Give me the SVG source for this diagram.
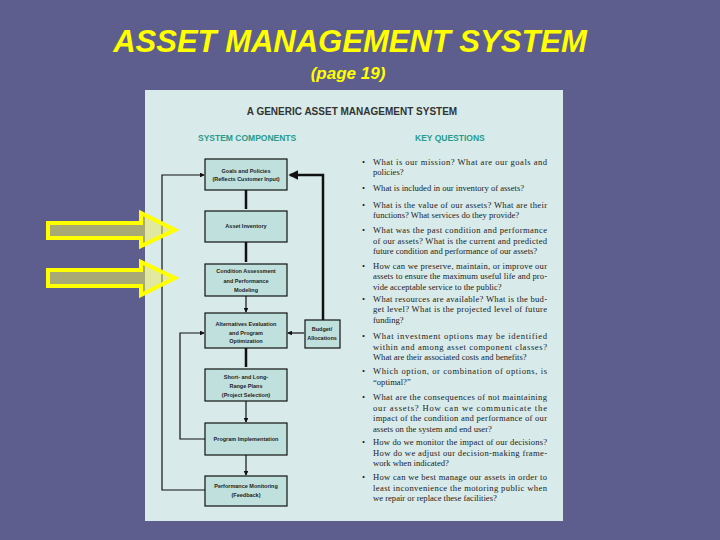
<svg xmlns="http://www.w3.org/2000/svg" width="720" height="540" viewBox="0 0 720 540">
<defs>
<style>
.bx{fill:#bfe0dc;stroke:#111;stroke-width:1.2}
.bl{font-family:"Liberation Sans",Arial,sans-serif;font-size:5.5px;font-weight:bold;fill:#222;text-anchor:middle}
.q{font-family:"Liberation Serif","Times New Roman",serif;font-size:8.6px;fill:#222}
.ln{fill:none;stroke:#111;stroke-width:1.2}
.th{fill:none;stroke:#111;stroke-width:2.5}
.ya{fill:#e8e860;fill-opacity:0.55;stroke:#ffff00;stroke-width:4}
</style>
<marker id="ah" viewBox="0 0 6 6" refX="5" refY="3" markerWidth="4" markerHeight="4" orient="auto"><path d="M0,0L6,3L0,6z" fill="#111"/></marker>
</defs>
<rect width="720" height="540" fill="#5e5e8e"/>
<text x="350" y="52" text-anchor="middle" font-family="Liberation Sans,Arial,sans-serif" font-size="31" font-weight="bold" font-style="italic" fill="#ffff00">ASSET MANAGEMENT SYSTEM</text>
<text x="348" y="79" text-anchor="middle" font-family="Liberation Sans,Arial,sans-serif" font-size="17" font-weight="bold" font-style="italic" fill="#ffff00">(page 19)</text>
<rect x="145" y="90" width="418" height="431" fill="#d8ebea"/>
<text x="352" y="115" text-anchor="middle" font-family="Liberation Sans,Arial,sans-serif" font-size="10" font-weight="bold" fill="#333">A GENERIC ASSET MANAGEMENT SYSTEM</text>
<text x="198" y="141" font-family="Liberation Sans,Arial,sans-serif" font-size="8.5" font-weight="bold" fill="#2a9a8c">SYSTEM COMPONENTS</text>
<text x="415" y="141" font-family="Liberation Sans,Arial,sans-serif" font-size="8.5" font-weight="bold" fill="#2a9a8c">KEY QUESTIONS</text>
<g id="connectors">
<line class="th" x1="246" y1="190" x2="246" y2="209"/>
<line class="th" x1="246" y1="242" x2="246" y2="262"/>
<line class="ln" x1="246" y1="296" x2="246" y2="312" marker-end="url(#ah)"/>
<line class="th" x1="246" y1="348" x2="246" y2="367"/>
<line class="ln" x1="246" y1="401" x2="246" y2="422" marker-end="url(#ah)"/>
<line class="ln" x1="246" y1="455" x2="246" y2="475" marker-end="url(#ah)"/>
<polyline class="ln" points="205,490 162,490 162,175 204,175" marker-end="url(#ah)"/>
<polyline class="ln" points="205,439 180,439 180,333 204,333" marker-end="url(#ah)"/>
<polyline class="th" points="323,320 323,175 290,175" marker-end="url(#ah)"/>
<line class="ln" x1="304" y1="333" x2="288" y2="333" marker-end="url(#ah)"/>
</g>
<g id="n1"><rect class="bx" x="205" y="159" width="82" height="31"/><text class="bl" x="246" y="173">Goals and Policies</text><text class="bl" x="246" y="181">(Reflects Customer Input)</text></g>
<g id="n2"><rect class="bx" x="205" y="211" width="82" height="31"/><text class="bl" x="246" y="228">Asset Inventory</text></g>
<g id="n3"><rect class="bx" x="205" y="264" width="82" height="32"/><text class="bl" x="246" y="273">Condition Assessment</text><text class="bl" x="246" y="283">and Performance</text><text class="bl" x="246" y="292">Modeling</text></g>
<g id="n4"><rect class="bx" x="205" y="313" width="82" height="35"/><text class="bl" x="246" y="326">Alternatives Evaluation</text><text class="bl" x="246" y="335">and Program</text><text class="bl" x="246" y="343">Optimization</text></g>
<g id="n5"><rect class="bx" x="205" y="369" width="82" height="32"/><text class="bl" x="246" y="379">Short- and Long-</text><text class="bl" x="246" y="388">Range Plans</text><text class="bl" x="246" y="397">(Project Selection)</text></g>
<g id="n6"><rect class="bx" x="205" y="423" width="82" height="32"/><text class="bl" x="246" y="441">Program Implementation</text></g>
<g id="n7"><rect class="bx" x="205" y="476" width="82" height="30"/><text class="bl" x="246" y="488">Performance Monitoring</text><text class="bl" x="246" y="497">(Feedback)</text></g>
<g id="n8"><rect class="bx" x="305" y="320" width="35" height="28"/><text class="bl" x="322" y="331" font-size="6">Budget/</text><text class="bl" x="322" y="340" font-size="6">Allocations</text></g>
<g id="questions" class="q">
<text x="362" y="165">•</text><text x="373" y="165" textLength="174" lengthAdjust="spacing">What is our mission? What are our goals and</text><text x="373" y="175">policies?</text>
<text x="362" y="191">•</text><text x="373" y="191">What is included in our inventory of assets?</text>
<text x="362" y="208">•</text><text x="373" y="208" textLength="174" lengthAdjust="spacing">What is the value of our assets? What are their</text><text x="373" y="218">functions? What services do they provide?</text>
<text x="362" y="233">•</text><text x="373" y="233" textLength="174" lengthAdjust="spacing">What was the past condition and performance</text><text x="373" y="244" textLength="174" lengthAdjust="spacing">of our assets? What is the current and predicted</text><text x="373" y="254">future condition and performance of our assets?</text>
<text x="362" y="269">•</text><text x="373" y="269" textLength="174" lengthAdjust="spacing">How can we preserve, maintain, or improve our</text><text x="373" y="279" textLength="174" lengthAdjust="spacing">assets to ensure the maximum useful life and pro-</text><text x="373" y="290">vide acceptable service to the public?</text>
<text x="362" y="302">•</text><text x="373" y="302" textLength="174" lengthAdjust="spacing">What resources are available? What is the bud-</text><text x="373" y="312" textLength="174" lengthAdjust="spacing">get level? What is the projected level of future</text><text x="373" y="323">funding?</text>
<text x="362" y="339">•</text><text x="373" y="339" textLength="174" lengthAdjust="spacing">What investment options may be identified</text><text x="373" y="350" textLength="174" lengthAdjust="spacing">within and among asset component classes?</text><text x="373" y="360">What are their associated costs and benefits?</text>
<text x="362" y="374">•</text><text x="373" y="374" textLength="174" lengthAdjust="spacing">Which option, or combination of options, is</text><text x="373" y="385">“optimal?”</text>
<text x="362" y="400">•</text><text x="373" y="400" textLength="174" lengthAdjust="spacing">What are the consequences of not maintaining</text><text x="373" y="411" textLength="174" lengthAdjust="spacing">our assets? How can we communicate the</text><text x="373" y="421" textLength="174" lengthAdjust="spacing">impact of the condition and performance of our</text><text x="373" y="432">assets on the system and end user?</text>
<text x="362" y="445">•</text><text x="373" y="445" textLength="174" lengthAdjust="spacing">How do we monitor the impact of our decisions?</text><text x="373" y="456" textLength="174" lengthAdjust="spacing">How do we adjust our decision-making frame-</text><text x="373" y="466">work when indicated?</text>
<text x="362" y="480">•</text><text x="373" y="480" textLength="174" lengthAdjust="spacing">How can we best manage our assets in order to</text><text x="373" y="491" textLength="174" lengthAdjust="spacing">least inconvenience the motoring public when</text><text x="373" y="501">we repair or replace these facilities?</text>
</g>
<g id="arrows">
<path class="ya" d="M48,223H141V213L175,230L141,246V238H48Z"/>
<path class="ya" d="M48,270H141V262L175,278L141,295V286H48Z"/>
</g>
</svg>
